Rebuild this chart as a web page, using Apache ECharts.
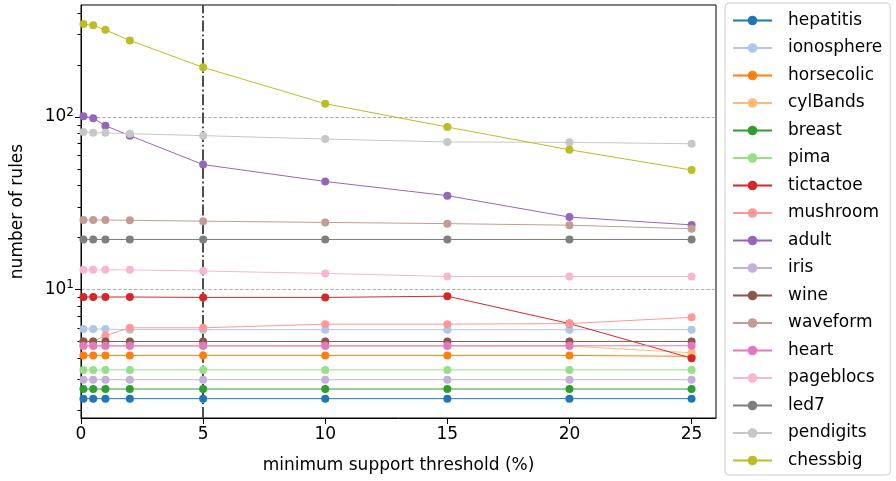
<!DOCTYPE html>
<html>
<head>
<meta charset="utf-8">
<script src="https://cdn.jsdelivr.net/npm/echarts@6/dist/echarts.min.js"></script>
<style>
html, body { margin: 0; padding: 0; background: #fff; }
#chart { width: 896px; height: 481px; }
</style>
</head>
<body>
<div id="chart"></div>
<script>
var thresholds = [0.1, 0.5, 1, 2, 5, 10, 15, 20, 25];
var xTicks = [0, 5, 10, 15, 20, 25];
var yMajorTicks = [10, 100];
var yMinorTicks = [2, 3, 4, 5, 6, 7, 8, 9, 20, 30, 40, 50, 60, 70, 80, 90, 200, 300, 400];

var names = ['hepatitis', 'ionosphere', 'horsecolic', 'cylBands', 'breast', 'pima', 'tictactoe', 'mushroom',
    'adult', 'iris', 'wine', 'waveform', 'heart', 'pageblocs', 'led7', 'pendigits', 'chessbig'];
var colors = ['#1f77b4', '#aec7e8', '#ff7f0e', '#ffbb78', '#2ca02c', '#98df8a', '#d62728', '#ff9896',
    '#9467bd', '#c5b0d5', '#8c564b', '#c49c94', '#e377c2', '#f7b6d2', '#7f7f7f', '#c7c7c7', '#bcbd22'];

var hepatitis  = [2.33, 2.33, 2.33, 2.33, 2.33, 2.33, 2.33, 2.33, 2.33];
var ionosphere = [5.9, 5.9, 5.9, 5.85, 5.85, 5.85, 5.85, 5.85, 5.85];
var horsecolic = [4.15, 4.15, 4.15, 4.15, 4.15, 4.15, 4.15, 4.15, 4.1];
var cylBands   = [4.7, 4.7, 4.7, 4.7, 4.7, 4.7, 4.7, 4.7, 4.3];
var breast     = [2.65, 2.65, 2.65, 2.65, 2.65, 2.65, 2.65, 2.65, 2.65];
var pima       = [3.42, 3.42, 3.42, 3.42, 3.42, 3.42, 3.42, 3.42, 3.42];
var tictactoe  = [9.05, 9.05, 9.05, 9.05, 9.0, 9.0, 9.15, 6.35, 4.0];
var mushroom   = [5.0, 5.0, 5.4, 6.0, 6.0, 6.3, 6.3, 6.35, 6.9];
var adult      = [101, 98.5, 89, 78, 53, 42.3, 35, 26.3, 23.7];
var iris       = [3.0, 3.0, 3.0, 3.0, 3.0, 3.0, 3.0, 3.0, 3.0];
var wine       = [5.0, 5.0, 5.0, 5.0, 5.0, 5.0, 5.0, 5.0, 5.0];
var waveform   = [25.3, 25.3, 25.3, 25.2, 24.9, 24.5, 24.1, 23.6, 22.5];
var heart      = [4.72, 4.72, 4.72, 4.72, 4.72, 4.72, 4.72, 4.72, 4.72];
var pageblocs  = [13.0, 13.0, 13.0, 13.0, 12.8, 12.4, 11.9, 11.9, 11.9];
var led7       = [19.5, 19.5, 19.5, 19.5, 19.5, 19.5, 19.5, 19.5, 19.5];
var pendigits  = [82, 81, 81, 80, 78, 74.5, 71.7, 71.3, 70];
var chessbig   = [346, 340, 320, 278, 194, 119.5, 87.5, 64.6, 49.3];

var values = [hepatitis, ionosphere, horsecolic, cylBands, breast, pima, tictactoe, mushroom,
    adult, iris, wine, waveform, heart, pageblocs, led7, pendigits, chessbig];

var font = 'DejaVu Sans';

var series = names.map(function(name, idx) {
    var s = {
        name: name,
        type: 'line',
        data: thresholds.map(function(x, i) { return [x, values[idx][i]]; }),
        symbol: 'circle',
        symbolSize: 8,
        showSymbol: true,
        color: colors[idx],
        lineStyle: { width: 1, color: colors[idx] },
        itemStyle: { color: colors[idx] },
        emphasis: { disabled: true },
        z: 3
    };
    if (idx === 0) {
        // vertical dash-dot line at 5%
        s.markLine = {
            silent: true,
            symbol: ['none', 'none'],
            z: 1,
            label: { show: false },
            lineStyle: { color: '#4d4d4d', width: 2, type: [11, 2.8, 1.8, 2.8] },
            data: [{ xAxis: 5 }]
        };
    }
    return s;
});

var chart = echarts.init(document.getElementById('chart'));
chart.setOption({
    animation: false,
    textStyle: { fontFamily: font },
    grid: {
        left: 81, right: 180, top: 5, bottom: 63,
        show: true, borderColor: '#000', borderWidth: 1
    },
    legend: {
        orient: 'vertical',
        left: 725, top: 3,
        padding: [9, 8, 6, 7],
        itemWidth: 39, itemHeight: 12, itemGap: 10.5,
        borderColor: '#cccccc', borderWidth: 1, borderRadius: 4,
        textStyle: { fontFamily: font, fontSize: 17, color: '#000', padding: [0, 0, 0, 11] },
        data: names
    },
    xAxis: {
        type: 'value',
        min: 0, max: 26,
        name: 'minimum support threshold (%)',
        nameLocation: 'middle',
        nameGap: 39,
        nameTextStyle: { fontFamily: font, fontSize: 17, color: '#000' },
        axisLine: { lineStyle: { color: '#000', width: 1 } },
        axisTick: { length: 6, lineStyle: { color: '#000' }, customValues: xTicks },
        axisLabel: { fontFamily: font, fontSize: 17, color: '#000', margin: 8, customValues: xTicks },
        splitLine: { show: false }
    },
    yAxis: [{
        type: 'log',
        min: 1.8, max: 446,
        name: 'number of rules',
        nameLocation: 'middle',
        nameGap: 55,
        nameTextStyle: { fontFamily: font, fontSize: 17, color: '#000' },
        axisLine: { show: true, lineStyle: { color: '#000', width: 1 } },
        axisTick: { length: 6, lineStyle: { color: '#000' }, customValues: yMajorTicks },
        axisLabel: {
            fontFamily: font, color: '#000', margin: 7,
            customValues: yMajorTicks,
            formatter: function(v) {
                return '{b|10}{s|' + Math.round(Math.log10(v)) + '}';
            },
            rich: {
                b: { fontFamily: font, fontSize: 17, color: '#000' },
                s: { fontFamily: font, fontSize: 12, color: '#000', verticalAlign: 'bottom', padding: [0, 0, 9, 0] }
            }
        },
        splitLine: { show: true, lineStyle: { color: '#b0b0b0', width: 1, type: [3.5, 1.8] } }
    }, {
        type: 'log',
        min: 1.8, max: 446,
        position: 'left',
        axisLine: { show: false },
        axisTick: { show: true, length: 3.5, lineStyle: { color: '#000' }, customValues: yMinorTicks },
        axisLabel: { show: false },
        splitLine: { show: false }
    }],
    series: series
});
</script>
</body>
</html>
